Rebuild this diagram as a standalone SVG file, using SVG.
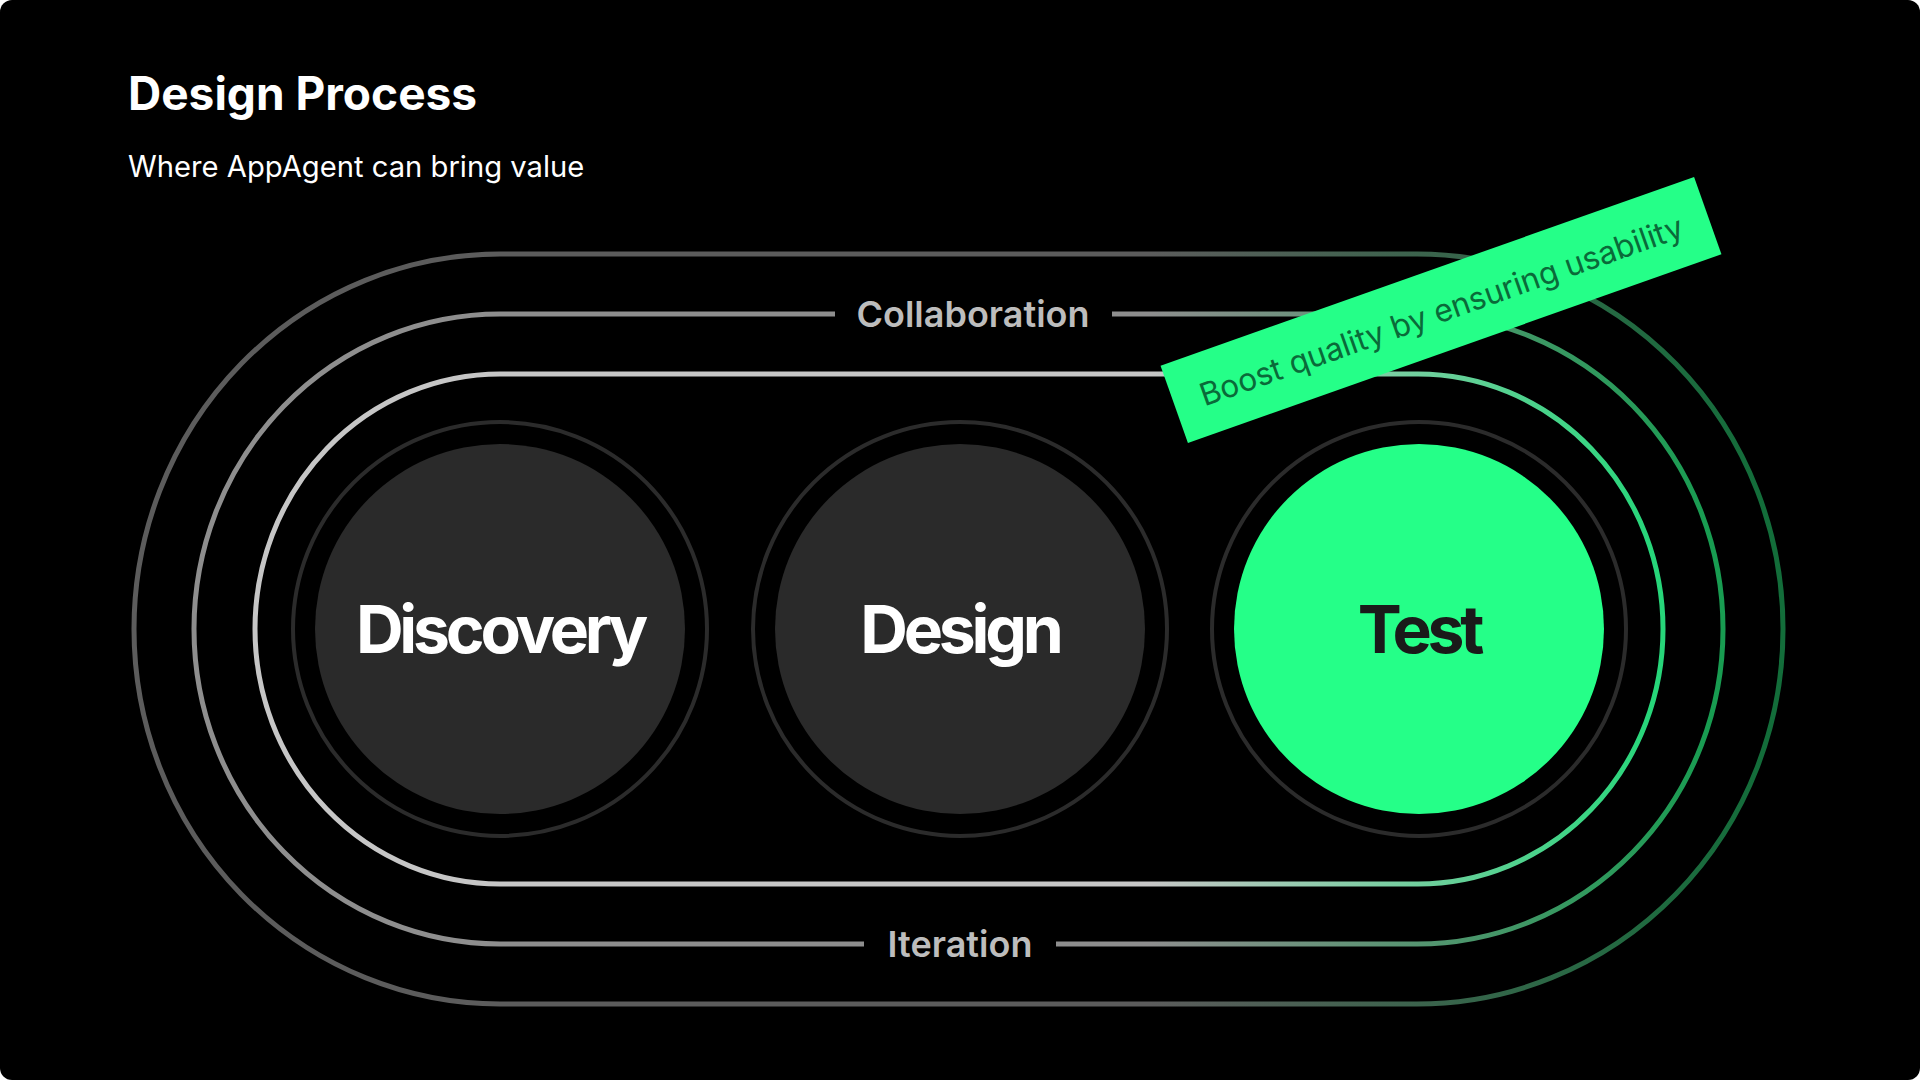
<svg xmlns="http://www.w3.org/2000/svg" width="1920" height="1080" viewBox="0 0 1920 1080">
  <defs>
    <linearGradient id="gOuter" gradientUnits="userSpaceOnUse" x1="1150" y1="0" x2="1760" y2="0">
      <stop offset="0" stop-color="#5c5c5c"/>
      <stop offset="1" stop-color="#136d3a"/>
    </linearGradient>
    <linearGradient id="gMiddle" gradientUnits="userSpaceOnUse" x1="1150" y1="0" x2="1710" y2="0">
      <stop offset="0" stop-color="#8e8e8e"/>
      <stop offset="1" stop-color="#189c51"/>
    </linearGradient>
    <linearGradient id="gInner" gradientUnits="userSpaceOnUse" x1="1150" y1="0" x2="1650" y2="0">
      <stop offset="0" stop-color="#c6c6c6"/>
      <stop offset="1" stop-color="#27d67a"/>
    </linearGradient>
    <style>
      .track { fill: none; stroke-width: 5; }
      .ring { fill: none; stroke: #2b2b2b; stroke-width: 4; }
      .disc { fill: #2a2a2a; }
      .disc-hl { fill: #25ff88; }
      .node-label { font-family: Inter, "Liberation Sans", sans-serif; font-weight: 700; font-size: 66px; letter-spacing: -4.2px; text-anchor: middle; }
      .track-label { font-family: Inter, "Liberation Sans", sans-serif; font-weight: 600; font-size: 36px; fill: #bdbdbd; text-anchor: middle; }
      .title { font-family: Inter, "Liberation Sans", sans-serif; font-weight: 700; font-size: 46px; fill: #ffffff; }
      .subtitle { font-family: Inter, "Liberation Sans", sans-serif; font-weight: 400; font-size: 29.2px; fill: #ffffff; }
      .banner-text { font-family: Inter, "Liberation Sans", sans-serif; font-weight: 400; font-size: 31.5px; fill: #0a6a39; text-anchor: middle; }
    </style>
  </defs>

  <rect x="0" y="0" width="1920" height="1080" fill="#ffffff"/>
  <rect x="0" y="0" width="1920" height="1080" rx="12" ry="12" fill="#000000"/>

  <g id="header">
    <text class="title" x="128" y="110">Design Process</text>
    <text class="subtitle" x="128" y="177">Where AppAgent can bring value</text>
  </g>

  <g id="connectors">
    <rect class="track" x="134" y="254" width="1649" height="750" rx="366" ry="375" stroke="url(#gOuter)"/>
    <path class="track" stroke="url(#gMiddle)" d="M1112 314 H1417 A306 315 0 0 1 1723 629 A306 315 0 0 1 1417 944 H1056 M864 944 H500 A306 315 0 0 1 194 629 A306 315 0 0 1 500 314 H835"/>
    <rect class="track" x="255" y="374" width="1408" height="510" rx="245" ry="255" stroke="url(#gInner)"/>
    <text class="track-label" x="973" y="327">Collaboration</text>
    <text class="track-label" x="960" y="957">Iteration</text>
  </g>

  <g id="discovery">
    <circle class="ring" cx="500" cy="629" r="207"/>
    <circle class="disc" cx="500" cy="629" r="185"/>
    <text class="node-label" x="500" y="653" fill="#ffffff">Discovery</text>
  </g>

  <g id="design">
    <circle class="ring" cx="960" cy="629" r="207"/>
    <circle class="disc" cx="960" cy="629" r="185"/>
    <text class="node-label" x="960" y="653" fill="#ffffff">Design</text>
  </g>

  <g id="test">
    <circle class="ring" cx="1419" cy="629" r="207"/>
    <circle class="disc-hl" cx="1419" cy="629" r="185"/>
    <text class="node-label" x="1419" y="653" fill="#1a1a1a">Test</text>
  </g>

  <g id="banner" transform="translate(1441 310) rotate(-19.5)">
    <rect x="-283" y="-41" width="566" height="82" fill="#25ff88"/>
    <text class="banner-text" x="0" y="12">Boost quality by ensuring usability</text>
  </g>
</svg>
